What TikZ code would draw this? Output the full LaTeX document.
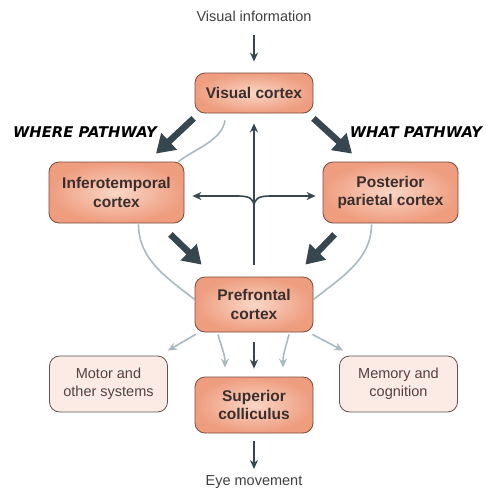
\documentclass[tikz,border=0pt]{standalone}
\usepackage{fontspec}
\setmainfont{Liberation Sans}
\newfontfamily\pathfont{DejaVu Sans}[ItalicFont={DejaVu Sans Oblique}, BoldFont={DejaVu Sans Bold}, BoldItalicFont={DejaVu Sans Bold Oblique}]
\usetikzlibrary{arrows.meta, positioning}
\definecolor{boxin}{HTML}{FAD6C6}
\definecolor{boxout}{HTML}{EE9D7F}
\definecolor{boxline}{HTML}{7A4A3C}
\definecolor{paleface}{HTML}{FCEBE5}
\definecolor{paleline}{HTML}{5E5350}
\definecolor{darkarr}{HTML}{37474F}
\definecolor{greyarr}{HTML}{AAB8BF}
\definecolor{txt}{HTML}{3B2E2C}

\begin{document}
\begin{tikzpicture}[x=1pt, y=-1pt,
    area/.style={draw=boxline, line width=0.8pt, rounded corners=10pt, inner color=boxin, outer color=boxout, align=center, font=\fontsize{15.5}{18.5}\selectfont\bfseries, text=txt, inner sep=0pt},
    pale/.style={draw=paleline, line width=0.8pt, rounded corners=10pt, fill=paleface, align=center, font=\fontsize{14.5}{18}\selectfont, text=txt!90, inner sep=0pt, minimum width=118pt, minimum height=56pt},
    infotext/.style={font=\fontsize{14.5}{17}\selectfont, text=black!75},
    pathway/.style={font=\pathfont\bfseries\itshape\fontsize{14.8}{17}\selectfont, text=black},
    arrow/.style={draw=darkarr, line width=1.6pt, -{Stealth[length=9pt,width=8pt]}},
    bigarrow/.style={draw=darkarr, line width=6.5pt, -{Triangle[length=18pt,width=22pt]}},
    link/.style={draw=greyarr, line width=1.6pt},
    linkarrow/.style={link, -{Stealth[length=9pt,width=8pt]}}
]
    \useasboundingbox (0,0) rectangle (486,496);

    % Nodes
    \node[infotext] (info) at (254,16) {Visual information};
    \node[area, minimum width=118pt, minimum height=40pt] (visual) at (254,93) {Visual cortex};
    \node[area, minimum width=135pt, minimum height=61pt] (infero) at (116.5,192.5) {Inferotemporal\\cortex};
    \node[area, minimum width=135pt, minimum height=61pt] (parietal) at (390.5,192.5) {Posterior\\parietal cortex};
    \node[area, minimum width=118pt, minimum height=55pt] (prefrontal) at (254,304.5) {Prefrontal\\cortex};
    \node[area, minimum width=118pt, minimum height=56pt] (colliculus) at (254,405) {Superior\\colliculus};
    \node[pale] (motor) at (108.5,384) {Motor and\\other systems};
    \node[pale] (memory) at (398.5,384) {Memory and\\cognition};
    \node[infotext] (eye) at (254,482) {Eye movement};
    \node[pathway] (where) at (85,132) {WHERE PATHWAY};
    \node[pathway] (what) at (416,132) {WHAT PATHWAY};
    \coordinate (branch) at (254,207);

    % Pathways
    \draw[arrow] ([shift={(0,19)}]info.center) -- ([shift={(0,-11)}]visual.north);
    \draw[bigarrow] ([shift={(-1,5)}]visual.south west) -- ([shift={(39.5,-8)}]infero.north);
    \draw[bigarrow] ([shift={(0,5)}]visual.south east) -- ([shift={(-38.5,-8)}]parietal.north);
    \draw[bigarrow] ([shift={(-14,11)}]infero.south east) -- ([shift={(7,-12)}]prefrontal.north west);
    \draw[bigarrow] ([shift={(12,11)}]parietal.south west) -- ([shift={(-8,-12)}]prefrontal.north east);

    % Feedback from prefrontal cortex
    \draw[arrow] ([shift={(0,-12)}]prefrontal.north) -- ([shift={(0,10)}]visual.south);
    \draw[arrow] (branch) .. controls (254,199) and (250,196) .. (238,196) -- ([shift={(8,3.5)}]infero.east);
    \draw[arrow] (branch) .. controls (254,199) and (258,196) .. (270,196) -- ([shift={(-7,3.5)}]parietal.west);

    % Weak links
    \draw[link] ([shift={(-29,7)}]visual.south) .. controls +(-3,20) and +(17,-13) .. ([shift={(-6,0)}]infero.north east);
    \draw[link] ([shift={(22,1)}]infero.south) .. controls +(0,35) and +(-28,-22) .. ([shift={(0,-5)}]prefrontal.west);
    \draw[link] ([shift={(-19,1)}]parietal.south) .. controls +(0,35) and +(28,-22) .. ([shift={(0,-5)}]prefrontal.east);

    % Outputs
    \draw[linkarrow] ([shift={(1,2)}]prefrontal.south west) -- ([shift={(0,-5)}]motor.north east);
    \draw[linkarrow] ([shift={(-36,2)}]prefrontal.south) .. controls +(3,12) and +(0,-14) .. ([shift={(-29,-9)}]colliculus.north);
    \draw[arrow] ([shift={(0,10)}]prefrontal.south) -- ([shift={(0,-8)}]colliculus.north);
    \draw[linkarrow] ([shift={(35,2)}]prefrontal.south) .. controls +(-3,12) and +(0,-14) .. ([shift={(29,-9)}]colliculus.north);
    \draw[linkarrow] ([shift={(-1,2)}]prefrontal.south east) -- ([shift={(4,-5)}]memory.north west);
    \draw[arrow] ([shift={(0,8)}]colliculus.south) -- ([shift={(0,-13)}]eye.center);
\end{tikzpicture}
\end{document}
